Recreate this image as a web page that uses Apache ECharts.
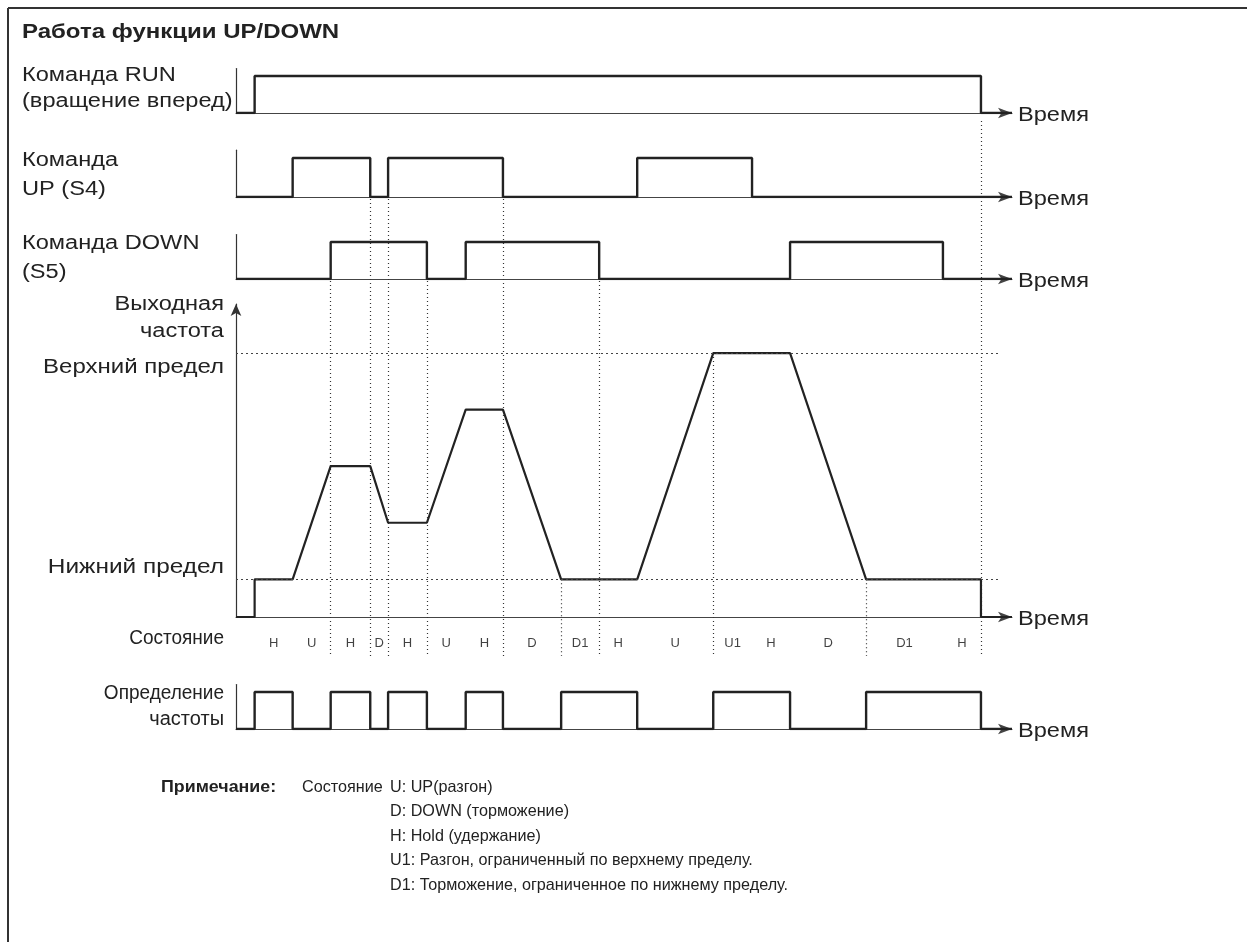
<!DOCTYPE html>
<html><head><meta charset="utf-8">
<script src="https://cdn.jsdelivr.net/npm/echarts@6/dist/echarts.min.js"></script>
<style>html,body{margin:0;padding:0;background:#fff}#c{width:1247px;height:942px}</style>
</head><body><div id="c"></div>
<script>
// ---------- DATA ----------
const title = 'Работа функции UP/DOWN';
const timeLabel = 'Время';
// switching times (arbitrary time units 0..100)
const runEdges    = [2.4, 96.0];
const upEdges     = [7.3, 17.3, 19.6, 34.4, 51.7, 66.5];
const downEdges   = [12.2, 24.6, 29.6, 46.8, 71.4, 91.1];
const detectEdges = [2.4, 7.3, 12.2, 17.3, 19.6, 24.6, 29.6, 34.4, 41.9, 51.7, 61.5, 71.4, 81.2, 96.0];
// output frequency trace
const freqTimes  = [0, 2.4, 2.4, 7.3, 12.2, 17.3, 19.6, 24.6, 29.6, 34.4, 41.9, 51.7, 61.5, 71.4, 81.2, 96.0, 96.0, 100];
const freqValues = [0, 0, 10, 10, 40, 40, 25, 25, 55, 55, 10, 10, 70, 70, 10, 10, 0, 0];
const lowerLimit = 10;
const upperLimit = 70;
// states
const stateBounds = [2.4, 7.3, 12.2, 17.3, 19.6, 24.6, 29.6, 34.4, 41.9, 46.8, 51.7, 61.5, 66.5, 71.4, 81.2, 91.1, 96.0];
const stateNames  = ['H','U','H','D','H','U','H','D','D1','H','U','U1','H','D','D1','H'];
// dotted guide lines: time and where they begin
const guideTimes  = [12.2, 17.3, 19.6, 24.6, 34.4, 41.9, 46.8, 61.5, 81.2, 96.0];
const guideFrom   = ['down','up','up','down','up','lower','down','upper','lower','run'];
// texts
const noteHead = 'Примечание:';
const noteSub = 'Состояние';
const noteLines = ['U: UP(разгон)', 'D: DOWN (торможение)', 'H: Hold (удержание)',
  'U1: Разгон, ограниченный по верхнему пределу.', 'D1: Торможение, ограниченное по нижнему пределу.'];

// ---------- LAYOUT ----------
const X0 = 236, XW = 776, TMAX = 100;
const FONT = '"Liberation Sans", Arial, Helvetica, sans-serif';
const LBL = 20, LSX = 1.18;
const rows = {
  run:  {low: 113, unit: 37},
  up:   {low: 197, unit: 39},
  down: {low: 279, unit: 37},
  det:  {low: 729, unit: 37}
};
const DMAX = 1.2;
const freqBottom = 617, freqPx = 3.77, FMAX = 83;
const stateY = 643, guideEnd = 656;
const ink = '#222';

function stepPts(edges) {
  const p = [[0, 0]]; let v = 0;
  edges.forEach(e => { p.push([e, v]); v = 1 - v; p.push([e, v]); });
  p.push([TMAX, v]);
  return p;
}
const timeAxisLine = {show: true, symbol: ['none', 'arrow'], symbolSize: [8, 14], lineStyle: {color: '#444', width: 1}};
const grids = [], xAxes = [], yAxes = [], series = [];
function addDigital(r, edges) {
  const i = grids.length;
  grids.push({left: X0, width: XW, top: r.low - DMAX * r.unit, height: DMAX * r.unit});
  xAxes.push({gridIndex: i, type: 'value', min: 0, max: TMAX, axisLine: timeAxisLine,
    axisTick: {show: false}, axisLabel: {show: false}, splitLine: {show: false}});
  yAxes.push({gridIndex: i, type: 'value', min: 0, max: DMAX,
    axisLine: {show: true, onZero: false, lineStyle: {color: '#333', width: 1.2}},
    axisTick: {show: false}, axisLabel: {show: false}, splitLine: {show: false}});
  series.push({type: 'line', xAxisIndex: i, yAxisIndex: i, data: stepPts(edges), symbol: 'none',
    lineStyle: {color: ink, width: 2.4}, animation: false, z: 3});
}
addDigital(rows.run, runEdges);
addDigital(rows.up, upEdges);
addDigital(rows.down, downEdges);

// frequency panel
const fi = grids.length;
grids.push({left: X0, width: XW, top: freqBottom - FMAX * freqPx, height: FMAX * freqPx});
xAxes.push({gridIndex: fi, type: 'value', min: 0, max: TMAX, axisLine: timeAxisLine,
  axisTick: {show: false}, axisLabel: {show: false}, splitLine: {show: false}});
yAxes.push({gridIndex: fi, type: 'value', min: 0, max: FMAX,
  axisLine: {show: true, onZero: false, symbol: ['none', 'arrow'], symbolSize: [8, 12], lineStyle: {color: '#333', width: 1.2}},
  axisTick: {show: false}, axisLabel: {show: false}, splitLine: {show: false}});
const limitEnd = 98.5;
series.push({type: 'line', xAxisIndex: fi, yAxisIndex: fi, symbol: 'none', animation: false, z: 3,
  data: freqTimes.map((t, k) => [t, freqValues[k]]), lineStyle: {color: ink, width: 2.2},
  markLine: {silent: true, symbol: 'none', label: {show: false}, animation: false,
    lineStyle: {color: '#444', width: 1, type: [2, 3]},
    data: [[{coord: [0, upperLimit]}, {coord: [limitEnd, upperLimit]}],
           [{coord: [0, lowerLimit]}, {coord: [limitEnd, lowerLimit]}]]}});

addDigital(rows.det, detectEdges);

// overlay grid for guides and state labels (y in page pixels)
const oi = grids.length;
grids.push({left: X0, width: XW, top: 0, height: 942});
xAxes.push({gridIndex: oi, type: 'value', min: 0, max: TMAX, show: false});
yAxes.push({gridIndex: oi, type: 'value', min: 0, max: 942, inverse: true, show: false});
const startY = {
  run: rows.run.low + 8, up: rows.up.low + 2, down: rows.down.low + 2,
  upper: freqBottom - upperLimit * freqPx, lower: freqBottom - lowerLimit * freqPx
};
series.push({type: 'lines', coordinateSystem: 'cartesian2d', xAxisIndex: oi, yAxisIndex: oi, silent: true,
  animation: false, z: 1,
  lineStyle: {color: '#333', width: 1.2, type: [1, 3], opacity: 1},
  data: guideTimes.map((t, k) => ({coords: [[t, startY[guideFrom[k]]], [t, guideEnd]]}))});
const stateData = stateNames.map((n, k) => ({name: n, value: [(stateBounds[k] + stateBounds[k + 1]) / 2, stateY]}));
series.push({type: 'scatter', xAxisIndex: oi, yAxisIndex: oi, symbol: 'circle', symbolSize: 0,
  itemStyle: {color: 'rgba(0,0,0,0)'}, animation: false, silent: true, z: 5,
  label: {show: true, position: 'inside', formatter: p => p.name, fontSize: 13, color: '#111',
    fontFamily: '"Liberation Sans Narrow", "Liberation Sans", Arial, sans-serif'},
  data: stateData});

// ---------- TEXT ----------
function txt(text, x, y, opts) {
  opts = opts || {};
  return {type: 'text', silent: true, z: 10, x: x, y: y, scaleX: opts.sx || LSX, scaleY: 1,
    style: {text: text, x: 0, y: 0, fill: ink,
      font: (opts.bold ? 'bold ' : '') + (opts.size || LBL) + 'px ' + FONT,
      textAlign: opts.align || 'left', textVerticalAlign: 'middle', verticalAlign: 'middle'}};
}
const graphics = [
  {type: 'line', silent: true, shape: {x1: 8, y1: 8, x2: 1247, y2: 8}, style: {stroke: '#333', lineWidth: 2}},
  {type: 'line', silent: true, shape: {x1: 8, y1: 8, x2: 8, y2: 942}, style: {stroke: '#333', lineWidth: 2}},
  txt(title, 22, 32, {bold: true, sx: 1.2}),
  txt('Команда RUN', 22, 75),
  txt('(вращение вперед)', 22, 101),
  txt('Команда', 22, 160),
  txt('UP (S4)', 22, 189),
  txt('Команда DOWN', 22, 243),
  txt('(S5)', 22, 272),
  txt('Выходная', 224, 304, {align: 'right'}),
  txt('частота', 224, 331, {align: 'right'}),
  txt('Верхний предел', 224, 367, {align: 'right', sx: 1.2}),
  txt('Нижний предел', 224, 567, {align: 'right', sx: 1.22}),
  txt('Состояние', 224, 638, {align: 'right', sx: 0.95}),
  txt('Определение', 224, 693, {align: 'right', sx: 0.95}),
  txt('частоты', 224, 719, {align: 'right', sx: 1.0}),
  txt(noteHead, 161, 787, {bold: true, size: 16.5, sx: 1.08}),
  txt(noteSub, 302, 787, {size: 16.5, sx: 0.98})
];
noteLines.forEach((l, k) => graphics.push(txt(l, 390, 787 + k * 24.5, {size: 16.5, sx: 0.98})));
[rows.run.low, rows.up.low, rows.down.low, freqBottom, rows.det.low].forEach(y =>
  graphics.push(txt(timeLabel, 1018, y + 2)));

const chart = echarts.init(document.getElementById('c'), null, {renderer: 'canvas'});
chart.setOption({
  animation: false,
  backgroundColor: '#fff',
  grid: grids, xAxis: xAxes, yAxis: yAxes, series: series, graphic: graphics
});
</script></body></html>
